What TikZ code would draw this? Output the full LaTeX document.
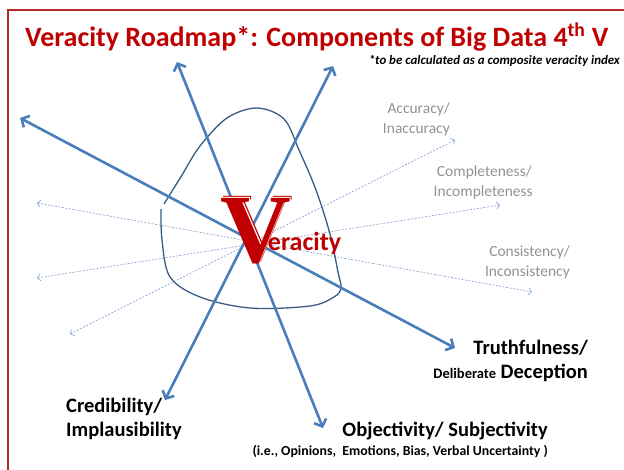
\documentclass[tikz,border=0pt]{standalone}
\usepackage{fontspec}
\setmainfont{Carlito}
\newfontfamily\bigVfont{Liberation Serif}
\usetikzlibrary{arrows.meta}
\definecolor{titlered}{HTML}{C00000}
\definecolor{framered}{HTML}{B22A33}
\definecolor{axisblue}{HTML}{4A7EBB}
\definecolor{loopblue}{HTML}{3B5B82}
\definecolor{dimblue}{HTML}{7D9BC8}
\definecolor{labelgray}{HTML}{929292}

\begin{document}
\begin{tikzpicture}[x=1pt,y=-1pt,
  axis/.style={draw=axisblue, line width=2.6pt,
    {Straight Barb[length=6pt,width=13pt]}-{Straight Barb[length=6pt,width=13pt]}},
  minor/.style={draw=dimblue, line width=0.6pt, dash pattern=on 2pt off 1.5pt,
    {Straight Barb[length=3pt,width=7pt]}-{Straight Barb[length=3pt,width=7pt]}},
  biglabel/.style={font=\bfseries\fontsize{20.5}{24}\selectfont, inner sep=0},
  dimlabel/.style={text=labelgray, font=\fontsize{15.5}{19}\selectfont, inner sep=0}]
\useasboundingbox (0,0) rectangle (624,469);
\clip (0,0) rectangle (624,469);
\draw[framered, line width=1.5pt] (8,10) rectangle (640,490);

% title
\node[anchor=base west, inner sep=0, text=titlered, font=\bfseries\fontsize{28}{32}\selectfont]
  (title) at (25,46) {Veracity Roadmap*: Components of Big Data 4\textsuperscript{th} V};
\node[anchor=base east, inner sep=0, font=\bfseries\itshape\fontsize{12.9}{14}\selectfont]
  (note) at (620,64) {*to be calculated as a composite veracity index};

% end points of the axes
\coordinate (objTop) at (177,62);
\coordinate (objEnd) at (323,428);
\coordinate (credTop) at (333,66);
\coordinate (credEnd) at (165,400);
\coordinate (truthTop) at (20,118);
\coordinate (truthEnd) at (455,348);
\coordinate (consL) at (37,203);
\coordinate (consR) at (532,292);
\coordinate (compL) at (37,278);
\coordinate (compR) at (500,205);
\coordinate (accL) at (70,334);
\coordinate (accR) at (455,140);

\foreach \a/\b in {consL/consR, compL/compR, accL/accR} {
\draw[minor] (\a) -- (\b);
}

\draw[loopblue, line width=1.3pt] plot[smooth, tension=0.55] coordinates {(164,204) (182,175)
  (200,146) (227,118) (257,108) (284,119) (299,150) (316,190) (330,234) (338,272)
  (341,288) (334,297) (310,306) (250,308) (200,297) (170,277) (162,240) (161,209)};

\foreach \a/\b in {objTop/objEnd, credTop/credEnd, truthTop/truthEnd} {
\draw[axis] (\a) -- (\b);
}

% the big V with its offset rim, then the rest of the word
\node[anchor=base west, inner sep=0, text=titlered] (veracity) at (220,262)
  {\bigVfont\bfseries\fontsize{98}{98}\selectfont
   \makebox[0pt][l]{\hspace{2.6pt}\raisebox{1.6pt}{V}}%
   \makebox[0pt][l]{\hspace{1.3pt}\raisebox{0.8pt}{\color{white}V}}%
   V\hspace{-23pt}\raisebox{12pt}{\normalfont\bfseries\fontsize{26}{26}\selectfont eracity}};

% gray labels
\node[dimlabel, anchor=base east] (acc1) at (450,113) {Accuracy/};
\node[dimlabel, anchor=base east] (acc2) at (450,133) {Inaccuracy};
\node[dimlabel, anchor=base east] (comp1) at (532,176) {Completeness/};
\node[dimlabel, anchor=base east] (comp2) at (533,196) {Incompleteness};
\node[dimlabel, anchor=base east] (cons1) at (570,256) {Consistency/};
\node[dimlabel, anchor=base east] (cons2) at (570,276) {Inconsistency};

% black labels
\node[biglabel, anchor=base east] (truth1) at (588,354) {Truthfulness/};
\node[biglabel, anchor=base east] (truth2) at (588,378)
  {{\fontsize{14.5}{16}\selectfont Deliberate} Deception};
\node[biglabel, anchor=base west] (cred1) at (66,412) {Credibility/};
\node[biglabel, anchor=base west] (cred2) at (66,436) {Implausibility};
\node[biglabel, anchor=base east] (obj1) at (548,436) {Objectivity/ Subjectivity};
\node[anchor=base east, inner sep=0, font=\bfseries\fontsize{13.8}{15}\selectfont]
  (obj2) at (548,455) {(i.e., Opinions,\ \ Emotions, Bias, Verbal Uncertainty )};
\end{tikzpicture}
\end{document}
